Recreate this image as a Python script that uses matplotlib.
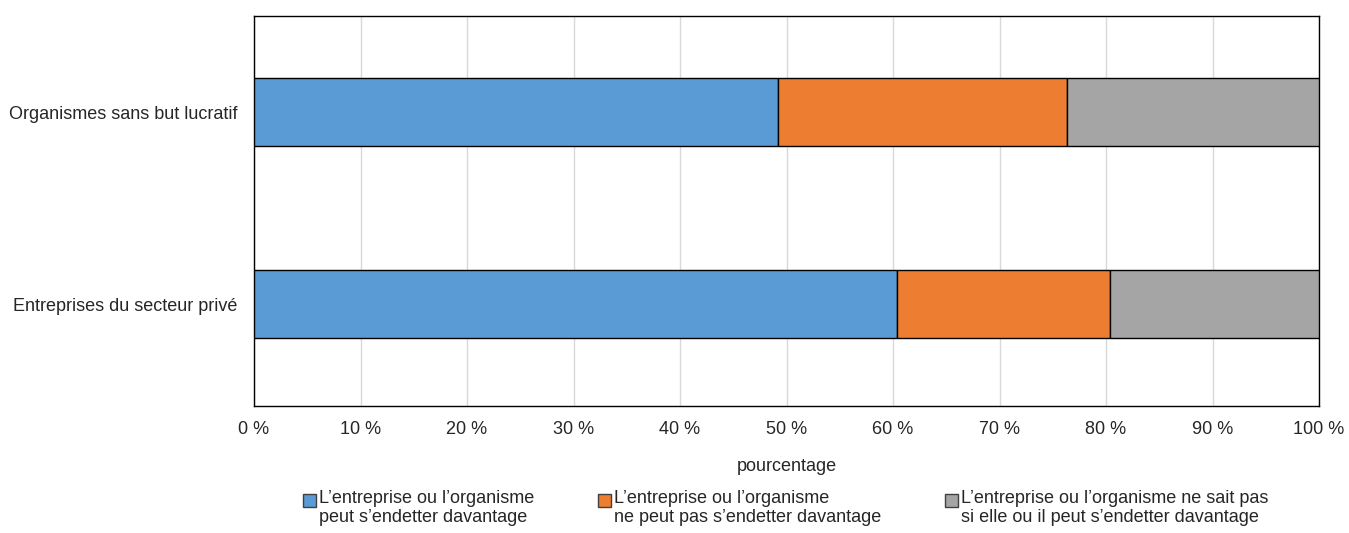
import matplotlib
matplotlib.use('Agg')
import matplotlib.pyplot as plt
from matplotlib.patches import Rectangle
import numpy as np

plt.rcParams['font.family'] = ['Liberation Sans Narrow', 'DejaVu Sans Condensed', 'Liberation Sans', 'DejaVu Sans']
plt.rcParams['text.color'] = '#262626'
plt.rcParams['axes.labelcolor'] = '#262626'
plt.rcParams['xtick.color'] = '#262626'
plt.rcParams['ytick.color'] = '#262626'

categories = ['Entreprises du secteur privé', 'Organismes sans but lucratif']
peut = [60.4, 49.2]
ne_peut_pas = [20.0, 27.1]
ne_sait_pas = [19.6, 23.7]
series_labels = ["L’entreprise ou l’organisme\npeut s’endetter davantage",
                 "L’entreprise ou l’organisme\nne peut pas s’endetter davantage",
                 "L’entreprise ou l’organisme ne sait pas\nsi elle ou il peut s’endetter davantage"]
colors = ['#5B9BD5', '#ED7D31', '#A5A5A5']
xticks = np.arange(0, 101, 10)

W, H = 1349, 533
fig = plt.figure(figsize=(W / 100, H / 100), dpi=100)
ax = fig.add_axes([254 / W, 1 - 406 / H, 1065 / W, 390 / H])

y = np.arange(len(categories))
left = np.zeros(len(categories))
for vals, col, lab in zip([peut, ne_peut_pas, ne_sait_pas], colors, series_labels):
    ax.barh(y, vals, left=left, height=0.354, color=col, edgecolor='black',
            linewidth=1.0, label=lab, zorder=3)
    left += np.array(vals)

ax.set_xlim(0, 100)
ax.set_ylim(-0.53, 1.50)
ax.set_xticks(xticks)
ax.set_xticklabels([f'{v} %' for v in xticks], fontsize=13)
ax.set_yticks(y)
ax.set_yticklabels(categories, fontsize=13)
ax.tick_params(axis='x', length=0, pad=11)
ax.tick_params(axis='y', length=0, pad=12)
ax.grid(axis='x', color='#d9d9d9', linewidth=1.0, zorder=0)
for s in ax.spines.values():
    s.set_color('black')
    s.set_linewidth(1.0)
ax.set_xlabel('pourcentage', fontsize=13, labelpad=14)

# legende faite a la main (carre aligne sur la premiere ligne)
leg_x = [303, 598, 945]
for x0, col, lab in zip(leg_x, colors, series_labels):
    fig.patches.append(Rectangle((x0 / W, 1 - 507 / H), 13 / W, 13 / H, transform=fig.transFigure,
                                 facecolor=col, edgecolor='#404040', linewidth=1.0))
    fig.text((x0 + 16) / W, 1 - 490 / H, lab, fontsize=13, ha='left', va='top',
             linespacing=1.15)

fig.savefig('out.png', dpi=100)
